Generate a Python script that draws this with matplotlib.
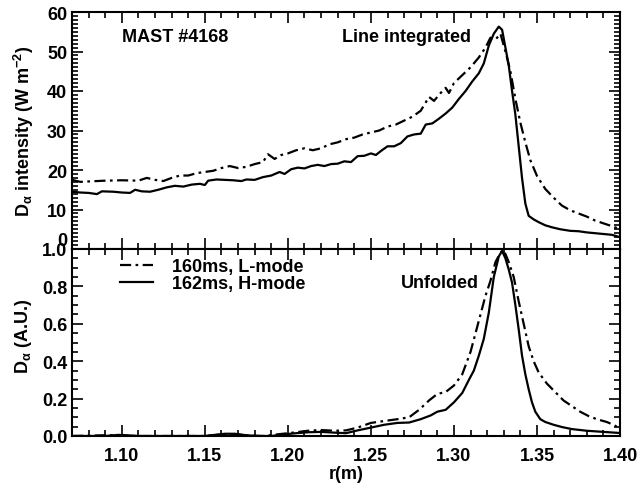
import matplotlib
matplotlib.use("Agg")
import matplotlib.pyplot as plt
from matplotlib.ticker import MultipleLocator

# ---------------- data ----------------
r_top_h = [1.070, 1.075, 1.080, 1.085, 1.088, 1.095, 1.100, 1.105, 1.108, 1.112, 1.117, 1.122,
           1.127, 1.132, 1.137, 1.142, 1.147, 1.150, 1.152, 1.157, 1.162, 1.167, 1.172, 1.175,
           1.180, 1.185, 1.190, 1.195, 1.198, 1.202, 1.206, 1.210, 1.214, 1.218, 1.222, 1.226,
           1.230, 1.234, 1.238, 1.242, 1.246, 1.250, 1.253, 1.256, 1.260, 1.264, 1.268, 1.272,
           1.276, 1.280, 1.283, 1.287, 1.291, 1.295, 1.299, 1.303, 1.307, 1.311, 1.315, 1.318,
           1.321, 1.324, 1.327, 1.329, 1.331, 1.333, 1.335, 1.337, 1.339, 1.341, 1.343, 1.345,
           1.348, 1.351, 1.355, 1.359, 1.364, 1.370, 1.375, 1.380, 1.385, 1.390, 1.395, 1.400]
top_h = [14.5, 14.3, 14.2, 13.9, 14.6, 14.5, 14.3, 14.2, 15.0, 14.6, 14.5, 15.0,
         15.6, 16.0, 15.8, 16.3, 16.5, 16.2, 17.3, 17.6, 17.5, 17.4, 17.2, 17.6,
         17.5, 18.2, 18.6, 19.5, 19.0, 20.2, 20.6, 20.4, 21.0, 21.3, 21.0, 21.5,
         21.6, 22.2, 22.0, 23.5, 23.6, 24.2, 23.8, 24.8, 26.0, 26.0, 26.8, 28.5,
         29.0, 29.2, 31.5, 31.8, 33.0, 34.3, 35.8, 38.0, 40.0, 42.4, 44.5, 47.0,
         51.5, 54.5, 56.3, 55.5, 51.0, 46.5, 40.0, 34.0, 26.0, 18.0, 11.5, 8.4,
         7.5, 6.8, 6.0, 5.5, 5.0, 4.6, 4.5, 4.2, 4.0, 3.8, 3.6, 3.0]

r_top_l = [1.070, 1.075, 1.080, 1.090, 1.100, 1.110, 1.115, 1.120, 1.125, 1.130, 1.135, 1.140,
           1.145, 1.150, 1.155, 1.160, 1.165, 1.170, 1.175, 1.180, 1.185, 1.188, 1.192, 1.196,
           1.200, 1.205, 1.210, 1.215, 1.220, 1.225, 1.230, 1.235, 1.240, 1.245, 1.250, 1.255,
           1.260, 1.265, 1.270, 1.275, 1.280, 1.285, 1.288, 1.292, 1.295, 1.297, 1.300, 1.305,
           1.310, 1.315, 1.319, 1.322, 1.325, 1.328, 1.331, 1.334, 1.337, 1.340, 1.343, 1.346,
           1.350, 1.355, 1.360, 1.365, 1.370, 1.375, 1.380, 1.385, 1.390, 1.395, 1.400]
top_l = [17.5, 17.0, 17.1, 17.3, 17.4, 17.3, 18.0, 17.5, 17.2, 18.0, 18.6, 18.6,
         19.2, 19.5, 19.8, 20.5, 21.0, 20.5, 20.8, 21.5, 22.0, 24.0, 22.8, 23.8,
         24.2, 25.0, 25.5, 25.0, 25.5, 26.5, 27.0, 27.8, 28.2, 29.0, 29.5, 30.0,
         31.0, 31.5, 32.5, 33.5, 35.0, 38.5, 37.5, 39.5, 40.8, 39.5, 42.0, 44.0,
         46.0, 48.5, 51.0, 53.5, 53.0, 54.5, 50.0, 45.0, 38.0, 32.0, 27.0, 22.5,
         18.5, 15.2, 13.0, 11.0, 9.8, 9.0, 8.2, 7.2, 6.5, 5.8, 5.0]

r_bot_h = [1.070, 1.090, 1.098, 1.105, 1.110, 1.150, 1.155, 1.162, 1.168, 1.175, 1.182, 1.190,
           1.197, 1.205, 1.212, 1.220, 1.228, 1.235, 1.242, 1.250, 1.258, 1.266, 1.273, 1.280,
           1.286, 1.290, 1.295, 1.300, 1.305, 1.309, 1.312, 1.315, 1.318, 1.321, 1.324, 1.327,
           1.329, 1.331, 1.333, 1.335, 1.337, 1.339, 1.341, 1.343, 1.345, 1.347, 1.349, 1.352,
           1.355, 1.360, 1.365, 1.371, 1.380, 1.390, 1.400]
bot_h = [0.0, 0.0, 0.006, 0.003, 0.0, 0.0, 0.005, 0.012, 0.012, 0.004, 0.0, 0.0,
         0.008, 0.015, 0.02, 0.022, 0.018, 0.015, 0.03, 0.045, 0.06, 0.07, 0.072, 0.09,
         0.11, 0.13, 0.14, 0.18, 0.23, 0.30, 0.35, 0.43, 0.52, 0.66, 0.85, 0.96,
         0.99, 0.95, 0.89, 0.82, 0.70, 0.57, 0.43, 0.33, 0.25, 0.18, 0.13, 0.09,
         0.075, 0.06, 0.048, 0.037, 0.028, 0.022, 0.016]

r_bot_l = [1.070, 1.095, 1.105, 1.150, 1.160, 1.168, 1.175, 1.185, 1.195, 1.205, 1.212, 1.220,
           1.228, 1.235, 1.242, 1.250, 1.258, 1.266, 1.273, 1.279, 1.285, 1.290, 1.295, 1.300,
           1.305, 1.310, 1.313, 1.316, 1.319, 1.322, 1.325, 1.328, 1.330, 1.333, 1.336, 1.339,
           1.342, 1.345, 1.348, 1.351, 1.356, 1.361, 1.366, 1.371, 1.376, 1.381, 1.386, 1.392,
           1.396, 1.400]
bot_l = [0.0, 0.005, 0.0, 0.0, 0.008, 0.01, 0.003, 0.0, 0.01, 0.02, 0.028, 0.032,
         0.028, 0.03, 0.045, 0.07, 0.08, 0.09, 0.10, 0.14, 0.19, 0.225, 0.235, 0.27,
         0.33, 0.45, 0.55, 0.65, 0.75, 0.83, 0.93, 0.98, 0.995, 0.93, 0.85, 0.72,
         0.60, 0.48, 0.40, 0.34, 0.28, 0.235, 0.19, 0.16, 0.13, 0.107, 0.09, 0.075,
         0.06, 0.04]

x_ticks = [1.10, 1.15, 1.20, 1.25, 1.30, 1.35, 1.40]
x_ticklabels = ["1.10", "1.15", "1.20", "1.25", "1.30", "1.35", "1.40"]
top_yticks = [0, 10, 20, 30, 40, 50, 60]
bot_yticks = [0.0, 0.2, 0.4, 0.6, 0.8, 1.0]
legend_labels = ["160ms, L-mode", "162ms, H-mode"]

# ---------------- style ----------------
plt.rcParams['font.family'] = ['Liberation Sans', 'DejaVu Sans']
plt.rcParams['font.weight'] = 'bold'
plt.rcParams['mathtext.fontset'] = 'custom'
plt.rcParams['mathtext.rm'] = 'Liberation Sans:bold'
plt.rcParams['mathtext.it'] = 'Liberation Sans:bold'
plt.rcParams['mathtext.bf'] = 'Liberation Sans:bold'
plt.rcParams['mathtext.default'] = 'regular'

fig = plt.figure(figsize=(6.4, 4.89), dpi=100)
L, R = 72 / 640, 620 / 640
ax1 = fig.add_axes([L, 1 - 250 / 489, R - L, (250 - 13) / 489])
ax2 = fig.add_axes([L, 1 - 437 / 489, R - L, (437 - 250) / 489])

dash = (0, (5, 2, 1.2, 2))
lw = 1.6
ax1.plot(r_top_l, top_l, color='black', lw=lw, linestyle=dash)
ax1.plot(r_top_h, top_h, color='black', lw=lw)
l1, = ax2.plot(r_bot_l, bot_l, color='black', lw=lw, linestyle=dash)
l2, = ax2.plot(r_bot_h, bot_h, color='black', lw=lw)

for ax in (ax1, ax2):
    ax.set_xlim(1.07, 1.40)
    ax.set_xticks(x_ticks)
    ax.xaxis.set_minor_locator(MultipleLocator(0.01))
    ax.tick_params(which='both', direction='in', top=True, right=True,
                   width=1.2, labelsize=13)
    ax.tick_params(which='major', length=8)
    ax.tick_params(which='minor', length=4)
    for s in ax.spines.values():
        s.set_linewidth(1.5)

ax1.set_ylim(0, 60)
ax1.set_yticks(top_yticks)
ax1.yaxis.set_minor_locator(MultipleLocator(1))
ax1.tick_params(axis='x', labelbottom=False)
# the "0" label of the upper panel sits slightly above the shared boundary
ax1.yaxis.get_major_ticks()[0].label1.set_verticalalignment('bottom')

ax2.set_ylim(0, 1.0)
ax2.set_yticks(bot_yticks)
ax2.set_yticklabels(["%.1f" % v for v in bot_yticks])
ax2.yaxis.set_minor_locator(MultipleLocator(0.05))
ax2.set_xticklabels(x_ticklabels)
ax2.tick_params(axis='x', pad=8)

ax1.set_ylabel(r"D$_{\alpha}$ intensity (W m$^{-2}$)", fontsize=13, fontweight='bold')
ax2.set_ylabel(r"D$_{\alpha}$ (A.U.)", fontsize=13, fontweight='bold')
ax1.yaxis.set_label_coords(-0.066, 0.5)
ax2.yaxis.set_label_coords(-0.07, 0.54)
ax2.set_xlabel("r(m)", fontsize=13, fontweight='bold', labelpad=1)

ax1.text(1.100, 53.7, "MAST #4168", fontsize=13, fontweight='bold', va='center')
ax1.text(1.2327, 53.7, "Line integrated", fontsize=13, fontweight='bold', va='center')
ax2.text(1.268, 0.82, "Unfolded", fontsize=13, fontweight='bold', va='center')

ax2.legend([l1, l2], legend_labels, loc='upper left', bbox_to_anchor=(0.075, 0.99),
           frameon=False, fontsize=13, handlelength=1.8, handletextpad=1.05,
           labelspacing=0.0, borderaxespad=0)

fig.savefig("out.png", dpi=100)
